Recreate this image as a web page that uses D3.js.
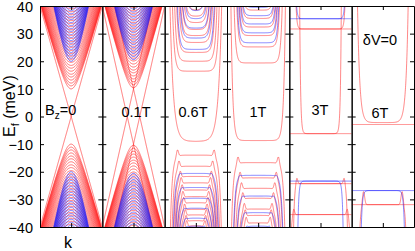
<!DOCTYPE html>
<html lang="en">
<head>
<meta charset="UTF-8">
<title>Landau levels</title>
<script src="https://cdn.jsdelivr.net/npm/d3@7"></script>
<style>
    * { margin: 0; padding: 0; }
    body { background: #fff; }
    svg { display: block; font-family: "Liberation Sans", Arial, sans-serif; }
</style>
</head>
<body>
<script>
    const width = 415
    const height = 251

    const panelLabels = ['B_z=0', '0.1T', '0.6T', '1T', '3T', '6T']
    const yTicks = [-40, -30, -20, -10, 0, 10, 20, 30, 40]

    // B = 0 : subband edges (meV)
    const redEdges0 = [0, 10, 11.1, 12.1, 13.2, 14.3, 15.3, 16.4, 17.5, 18.5, 19.6, 20.7, 21.8, 22.8, 23.9, 25.0, 26.1, 27.1, 28.2, 29.3, 30.4, 31.4, 32.5, 33.6, 34.7, 35.7, 36.8, 37.9, 39.0]
    const blueEdges0 = [20.0, 21.1, 22.2, 23.2, 24.3, 25.4, 26.5, 27.5, 28.6, 29.7, 30.8, 31.8, 32.9, 34.0, 35.1, 36.1, 37.2, 38.3, 39.4]

    // 0.1T
    const redEdges01 = [10.4, 11.5, 12.6, 13.6, 14.7, 15.8, 16.8, 17.9, 19.0, 20.1, 21.1, 22.2, 23.3, 24.4, 25.4, 26.5, 27.6, 28.7, 29.7, 30.8, 31.9, 33.0, 34.0, 35.1, 36.2, 37.3, 38.3, 39.4]
    const blueEdges01 = [20.6, 21.7, 22.8, 23.8, 24.9, 26.0, 27.0, 28.1, 29.2, 30.3, 31.3, 32.4, 33.5, 34.6, 35.6, 36.7, 37.8, 38.9]
    const crossings01 = [-10, 10]

    // Landau levels (meV): zero mode for 0.6T, 1T, 3T, 6T
    const zeroModes = [-9.0, -8.7, -6.2, -2.2]

    const red06Up = [16.4, 20.0, 23.2, 26.8, 29.3, 31.5, 34.0, 36.3, 38.5]
    const blue06Up = [24.3, 28.4, 32.0, 35.4, 38.3]
    const red06Dn = [-14.0, -18.0, -21.7, -24.0, -26.6, -29.0, -31.2, -33.6, -35.6, -37.7, -39.6]
    const blue06Dn = [-20.6, -25.7, -29.6, -33.2, -36.8, -39.7]

    const red1Up = [19.4, 25.2, 29.3, 32.4, 35.5, 38.5]
    const blue1Up = [26.7, 30.3, 33.5, 36.5, 39.5]
    const red1Dn = [-16.7, -22.2, -26.0, -29.6, -33.5, -35.8, -38.5]
    const blue1Dn = [-21.3, -28.8, -34.8, -39.7]

    const red3Up = [31.7]
    const blue3Up = [35.4]
    const red3Dn = [-24.3, -35.5]
    const blue3Dn = [-23.4]
    const flat3Red = [-6.2, 31.7, -24.3, -35.5]
    const flat3Blue = [35.4, -23.4]

    const red6Dn = [-31.9]
    const blue6Dn = [-26.8]
    const flat6Red = [-2.9, -31.9]
    const flat6Blue = [-26.8]

    const llData = {
        2: {zero: zeroModes[0], redUp: red06Up, blueUp: blue06Up, redDn: red06Dn, blueDn: blue06Dn, flatRed: [], flatBlue: []},
        3: {zero: zeroModes[1], redUp: red1Up, blueUp: blue1Up, redDn: red1Dn, blueDn: blue1Dn, flatRed: [], flatBlue: []},
        4: {zero: zeroModes[2], redUp: red3Up, blueUp: blue3Up, redDn: red3Dn, blueDn: blue3Dn, flatRed: flat3Red, flatBlue: flat3Blue},
        5: {zero: zeroModes[3], redUp: [], blueUp: [], redDn: red6Dn, blueDn: blue6Dn, flatRed: flat6Red, flatBlue: flat6Blue}
    }

    // edge shape of the levels in each panel: [kf, d]
    const llShape = {
        2: {up: E => [0.56 - 0.017 * (E - 16.4), 0.06], zero: [0.42, 0.105],
            dn: (E, c) => [0.62 + 0.0115 * (E + 14), 0.06], bump: {red: 2.5, blue: 0.5}, bOff: 0.03, bw: 0.045},
        3: {up: E => [0.62 - 0.012 * (E - 19.4), 0.05], zero: [0.66, 0.055],
            dn: (E, c) => [0.68 + 0.012 * (E + 16.7), 0.055], bump: {red: 2.6, blue: 0.5}, bOff: 0.03, bw: 0.045},
        4: {up: E => [0.72, 0.03], zero: [0.56, 0.028],
            dn: (E, c) => c === 'blue' ? [0.64, 0.03] : [0.78 - 0.009 * (E + 24.3), 0.03], bump: {red: 2.4, blue: 0}, bOff: 0.02, bw: 0.04},
        5: {up: E => [0.55, 0.07], zero: [0.55, 0.07],
            dn: (E, c) => c === 'blue' ? [0.6, 0.035] : [0.66, 0.035], bump: {red: 5.0, blue: 0}, bOff: 0.04, bw: 0.05}
    }

    const plot = {left: 40, right: 414, top: 6, bottom: 227}

    const svg = d3.select('body')
        .append('svg')
        .attr('width', width)
        .attr('height', height)

    const yScale = d3.scaleLinear()
        .domain([-40, 40])
        .range([plot.bottom, plot.top])

    const xBand = d3.scaleBand()
        .domain(d3.range(panelLabels.length))
        .range([plot.left, plot.right])

    const ks = d3.range(-1, 1.0001, 0.004)

    function hyperbola(m, v, s) {
        return ks.map(k => [k, s * Math.sqrt(m * m + v * v * k * k)])
    }

    function level(e0, dir, kf, d, bump, bk, bw) {
        return ks.map(k => {
            const a = Math.abs(k)
            let e = e0 + dir * Math.exp((a - kf) / d)
            if (bump) e += bump * Math.exp(-Math.pow((a - bk) / bw, 2))
            return [k, Math.max(-80, Math.min(80, e))]
        })
    }

    function panelCurves(i) {
        const out = []
        if (i < 2) {
            const vr = i === 0 ? 40 : 42
            const vb = i === 0 ? 62 : 56
            const reds = i === 0 ? redEdges0 : redEdges01
            const blues = i === 0 ? blueEdges0 : blueEdges01
            reds.forEach(m => [1, -1].forEach(s => out.push({c: 'red', pts: hyperbola(m, vr, s)})))
            if (i === 1) {
                crossings01.forEach(c => [1, -1].forEach(s => {
                    out.push({c: 'red', pts: ks.map(k => [k, c + s * 50 * k])})
                }))
            }
            blues.forEach(m => [1, -1].forEach(s => out.push({c: 'blue', pts: hyperbola(m, vb, s)})))
            return out
        }
        const L = llData[i]
        const sh = llShape[i]
        L.flatRed.forEach(e => out.push({c: 'red', pts: ks.map(k => [k, e])}))
        out.push({c: 'red', pts: level(L.zero, 1, sh.zero[0], sh.zero[1], 0)})
        L.redUp.forEach(e => {
            const [kf, d] = sh.up(e)
            out.push({c: 'red', pts: level(e, 1, kf, d, 0)})
        })
        L.redDn.forEach(e => {
            const [kf, d] = sh.dn(e, 'red')
            out.push({c: 'red', pts: level(e, -1, kf, d, sh.bump.red, kf - sh.bOff, sh.bw)})
        })
        L.flatBlue.forEach(e => out.push({c: 'blue', pts: ks.map(k => [k, e])}))
        L.blueUp.forEach(e => {
            const [kf, d] = sh.up(e)
            out.push({c: 'blue', pts: level(e, 1, kf, d, 0)})
        })
        L.blueDn.forEach(e => {
            const [kf, d] = sh.dn(e, 'blue')
            out.push({c: 'blue', pts: level(e, -1, kf, d, sh.bump.blue, kf - sh.bOff, sh.bw)})
        })
        return out
    }

    const colors = {red: '#ff1a1a', blue: '#1a1aff'}

    panelLabels.forEach((lab, i) => {
        const x0 = xBand(i)
        const bw = xBand.bandwidth()
        const kScale = d3.scaleLinear().domain([-1, 1]).range([x0, x0 + bw])

        svg.append('clipPath')
            .attr('id', 'clip' + i)
            .append('rect')
            .attr('x', x0)
            .attr('y', plot.top)
            .attr('width', bw)
            .attr('height', plot.bottom - plot.top)

        const line = d3.line()
            .x(d => kScale(d[0]))
            .y(d => yScale(d[1]))

        svg.append('g')
            .attr('clip-path', 'url(#clip' + i + ')')
            .selectAll('path')
            .data(panelCurves(i))
            .join('path')
            .attr('d', d => line(d.pts))
            .attr('fill', 'none')
            .attr('stroke', d => colors[d.c])
            .attr('stroke-width', i < 2 ? 0.65 : 0.7)
            .attr('stroke-opacity', i < 2 ? 0.9 : 0.75)

        // frame with inward ticks
        const left = svg.append('g')
            .attr('transform', 'translate(' + x0 + ',0)')
            .call(d3.axisLeft(yScale).tickValues(yTicks).tickSizeInner(-4).tickSizeOuter(0).tickPadding(7)
                .tickFormat(i === 0 ? d3.format('d') : ''))
        const right = svg.append('g')
            .attr('transform', 'translate(' + (x0 + bw) + ',0)')
            .call(d3.axisRight(yScale).tickValues(yTicks).tickSizeInner(-4).tickSizeOuter(0).tickFormat(''))
        const bottom = svg.append('g')
            .attr('transform', 'translate(0,' + plot.bottom + ')')
            .call(d3.axisBottom(kScale).tickValues([0]).tickSizeInner(-4).tickSizeOuter(0).tickFormat(''))
        const top = svg.append('g')
            .attr('transform', 'translate(0,' + plot.top + ')')
            .call(d3.axisTop(kScale).tickValues([0]).tickSizeInner(-4).tickSizeOuter(0).tickFormat(''))

        ;[left, right, bottom, top].forEach(a => {
            a.selectAll('path, line').attr('stroke', '#000').attr('stroke-width', 1)
            a.selectAll('text').attr('font-size', 14.5).attr('fill', '#000').attr('dy', '0.36em')
                .attr('font-family', '"Liberation Sans", Arial, sans-serif')
        })
    })

    // panel titles
    const labelPos = [[45, 115, 'start'], [136, 117, 'middle'], [193, 117, 'middle'], [258, 117, 'middle'], [320, 115, 'middle'], [380, 118, 'middle']]
    panelLabels.forEach((lab, i) => {
        const t = svg.append('text')
            .attr('x', labelPos[i][0])
            .attr('y', labelPos[i][1])
            .attr('text-anchor', labelPos[i][2])
            .attr('font-size', 14.5)
        if (lab.indexOf('_') > 0) {
            t.append('tspan').text('B')
            t.append('tspan').attr('font-size', 10).attr('dy', 4).text('z')
            t.append('tspan').attr('dy', -4).text('=0')
        } else {
            t.text(lab)
        }
    })

    svg.append('text')
        .attr('x', 380)
        .attr('y', 45)
        .attr('text-anchor', 'middle')
        .attr('font-size', 14.5)
        .text('δV=0')

    // axis titles
    const yl = svg.append('text')
        .attr('transform', 'translate(15,137) rotate(-90)')
        .attr('font-size', 16)
    yl.append('tspan').text('E')
    yl.append('tspan').attr('font-size', 11).attr('dy', 4).text('f')
    yl.append('tspan').attr('dy', -4).text(' (meV)')

    svg.append('text')
        .attr('x', 68)
        .attr('y', 248)
        .attr('text-anchor', 'middle')
        .attr('font-size', 16)
        .text('k')
</script>
</body>
</html>
